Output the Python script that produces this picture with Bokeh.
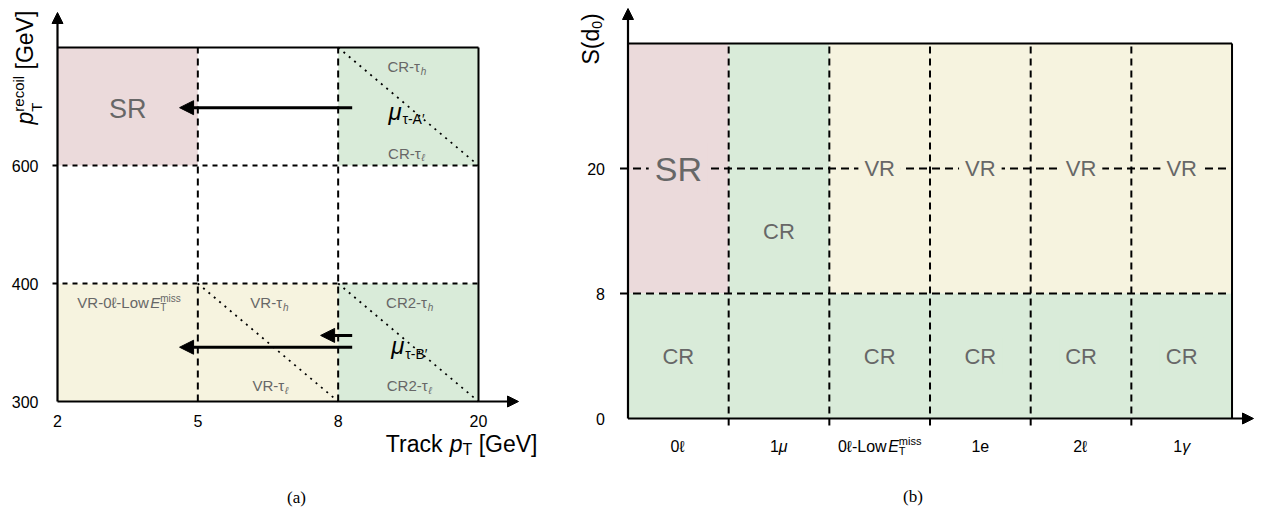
from bokeh.plotting import figure
from bokeh.models import Range1d, ColumnDataSource, Arrow, NormalHead
from bokeh.layouts import row
from bokeh.embed import file_html
from bokeh.resources import INLINE
from bokeh.core.properties import value, field

# ------------------------------------------------------------------ data (a)
track_pt_ticks = ["2", "5", "8", "20"]      # Track pT boundaries [GeV] (index 0..3)
recoil_ticks = ["300", "400", "600"]        # pT recoil boundaries [GeV] (index 0..2, top edge = 3)

a_kind = ["SR", "CR", "VR", "CR"]
a_x0 = [0, 2, 0, 2]
a_x1 = [1, 3, 2, 3]
a_y0 = [2, 2, 0, 0]
a_y1 = [3, 3, 1, 1]

a_cut_x = [1, 2]          # 5 GeV, 8 GeV
a_cut_y = [1, 2]          # 400 GeV, 600 GeV

a_diag_x0 = [2, 1, 2]
a_diag_y0 = [3, 1, 1]
a_diag_x1 = [3, 2, 3]
a_diag_y1 = [2, 0, 0]

arrow_from = [2.1, 2.1, 2.1]
arrow_to = [0.87, 1.875, 0.87]
arrow_at = [2.49, 0.56, 0.46]

# ------------------------------------------------------------------ data (b)
channels = ["0ℓ", "1μ", "0ℓ-LowE_T^miss", "1e", "2ℓ", "1γ"]
sd0_ticks = ["0", "8", "20"]
b_upper = ["SR", "CR", "VR", "VR", "VR", "VR"]     # S(d0) > 8
b_lower = ["CR", "CR", "CR", "CR", "CR", "CR"]     # S(d0) < 8
b_upper_text = ["SR", "CR", "VR", "VR", "VR", "VR"]
b_lower_text = ["CR", "", "CR", "CR", "CR", "CR"]

# ------------------------------------------------------------------ style / layout
FILL = {"SR": "#ebdadb", "CR": "#d9ebd9", "VR": "#f6f3df"}
GRAY = "#676767"
FONT = "Liberation Sans"
SERIF = "Liberation Serif"
NB = "\u00a0"
K = 0.32                      # baseline correction (em)
TICK = 16

OX, OY = 0, 0
WA, WB, H = 545, 716, 512
A_X0, A_SX, A_Y0, A_SY = 57, 140.33, 401, 118       # panel (a) grid: px of index 0, px/index
B_X0, B_SX, B_Y0, B_SY = 627.5, 100.67, 418, 125    # panel (b)


def ax_(px):
    return (px - A_X0) / A_SX


def ay_(py):
    return (A_Y0 - py) / A_SY


def bx_(px):
    return (px - B_X0) / B_SX


def by_(py):
    return (B_Y0 - py) / B_SY


CW = {" ": 0.278, NB: 0.278, "[": 0.278, "]": 0.278, "(": 0.333, ")": 0.333, "-": 0.333,
      "′": 0.19, "A": 0.667, "B": 0.667, "C": 0.722, "E": 0.667, "G": 0.778, "L": 0.556,
      "R": 0.722, "S": 0.667, "T": 0.611, "V": 0.667, "a": 0.556, "c": 0.5, "d": 0.556,
      "e": 0.556, "h": 0.556, "i": 0.222, "k": 0.5, "l": 0.222, "m": 0.833, "o": 0.556,
      "p": 0.556, "r": 0.333, "s": 0.5, "w": 0.722, "τ": 0.45, "μ": 0.58, "ℓ": 0.42,
      "γ": 0.5}


def tw(s, size):
    return sum(CW.get(c, 0.556) for c in s) * size


def layout(pieces):
    out, x, start = [], 0.0, 0.0
    for text, size, style, color, shift, stack in pieces:
        w = tw(text, size)
        if not stack:
            start = x
        x = max(x, start + w)
        out.append((text, size, style, color, shift, start))
    return out, x


def new_rows():
    return {k: [] for k in ["x", "y", "text", "dx", "dy", "size", "style", "color",
                            "font", "angle"]}


def rich(rows, pieces, x, y, align="center", angle=0, off=(0, 0), vcenter=True, font=FONT):
    items, total = layout(pieces)
    ref = total / 2 if align == "center" else (total if align == "right" else 0)
    base = 0.36 * pieces[0][1] if vcenter else 0
    for text, size, style, color, shift, start in items:
        a = start - ref
        s = shift + base - K * size
        if angle == 0:
            dx, dy = a, s
        else:
            dx, dy = s, -a
        rows["x"].append(x)
        rows["y"].append(y)
        rows["text"].append(text)
        rows["dx"].append(dx + off[0])
        rows["dy"].append(dy + off[1])
        rows["size"].append(f"{size}px")
        rows["style"].append(style)
        rows["color"].append(color)
        rows["font"].append(font)
        rows["angle"].append(angle)


def draw_rows(p, rows):
    p.text(x="x", y="y", text="text", x_offset="dx", y_offset="dy", angle="angle",
           angle_units="deg", text_font_size=field("size"), text_font_style=field("style"),
           text_color=field("color"), text_font=field("font"), text_align="left",
           text_baseline="alphabetic", source=ColumnDataSource(rows))


def base_fig(w, xr, yr):
    p = figure(width=w, height=H, x_range=Range1d(*xr), y_range=Range1d(*yr),
               x_axis_location=None, y_axis_location=None, output_backend="svg",
               toolbar_location=None, min_border_left=0, min_border_right=0,
               min_border_top=0, min_border_bottom=0)
    p.grid.visible = False
    p.outline_line_color = None
    p.background_fill_color = "white"
    p.border_fill_color = "white"
    return p


def axis_arrows(p, xtip, ytip):
    for xe, ye in [(xtip, 0), (0, ytip)]:
        p.add_layout(Arrow(end=NormalHead(size=11, fill_color="black", line_color="black",
                                          line_width=1),
                           x_start=0, y_start=0, x_end=xe, y_end=ye,
                           line_width=2.2, line_color="black"))


def tau(prefix, sub):
    return [(prefix + "τ", 15, "normal", GRAY, 0, False), (sub, 10, "italic", GRAY, 3, False)]


# ================================================================== panel (a)
pA = base_fig(WA, (ax_(OX), ax_(OX + WA)), (ay_(OY + H), ay_(OY)))
top_a = len(track_pt_ticks) - 1

pA.quad(left=a_x0, right=a_x1, bottom=a_y0, top=a_y1,
        fill_color=[FILL[k] for k in a_kind], line_color=None)
pA.segment(x0=a_cut_x, y0=[0] * len(a_cut_x), x1=a_cut_x, y1=[top_a] * len(a_cut_x),
           line_color="black", line_width=2, line_dash="7 5")
pA.segment(x0=[-5 / A_SX] * len(a_cut_y), y0=a_cut_y, x1=[top_a] * len(a_cut_y), y1=a_cut_y,
           line_color="black", line_width=2, line_dash="5 5")
pA.segment(x0=a_diag_x0, y0=a_diag_y0, x1=a_diag_x1, y1=a_diag_y1,
           line_color="black", line_width=1.8, line_dash="2 5")
pA.segment(x0=[0, top_a], y0=[top_a, 0], x1=[top_a, top_a], y1=[top_a, top_a],
           line_color="black", line_width=2)

rowsA = new_rows()
for i, t in enumerate(track_pt_ticks):
    rich(rowsA, [(t, TICK, "normal", "black", 0, False)], i, 0, off=(0, 19))
for i, t in enumerate(recoil_ticks):
    rich(rowsA, [(t, TICK, "normal", "black", 0, False)], 0, i, align="right", off=(-19, 0))

rich(rowsA, [("SR", 27, "normal", GRAY, 0, False)], 0.5, 2.49)
rich(rowsA, tau("CR-", "h"), 2.49, 2.84)
rich(rowsA, tau("CR-", "ℓ"), 2.49, 2.11)
rich(rowsA, tau("VR-", "h"), 1.51, 0.84)
rich(rowsA, tau("VR-", "ℓ"), 1.52, 0.14)
rich(rowsA, tau("CR2-", "h"), 2.51, 0.84)
rich(rowsA, tau("CR2-", "ℓ"), 2.51, 0.14)
rich(rowsA, [("VR-0ℓ-Low", 15, "normal", GRAY, 0, False),
             ("E", 15, "italic", GRAY, 0, False),
             ("miss", 10, "normal", GRAY, -6, False),
             ("T", 10, "normal", GRAY, 3, True)], 0.51, 0.84)
rich(rowsA, [("μ", 24, "italic", "black", 0, False),
             ("τ-A′", 14, "normal", "black", 5, False)], 2.49, 2.47)
rich(rowsA, [("μ", 24, "italic", "black", 0, False),
             ("τ-B′", 14, "normal", "black", 5, False)], 2.51, 0.48)

# axis titles and caption
rich(rowsA, [("Track" + NB, 23, "normal", "black", 0, False),
             ("p", 23, "italic", "black", 0, False),
             ("T", 16, "normal", "black", 3, False),
             (NB + "[GeV]", 23, "normal", "black", 0, False)], ax_(537), ay_(451),
     align="right", vcenter=False)
rich(rowsA, [("p", 23, "italic", "black", 0, False),
             ("T", 15, "normal", "black", 9, False),
             ("recoil", 15, "normal", "black", -9, True),
             (NB + "[GeV]", 23, "normal", "black", 0, False)], ax_(32), ay_(124),
     align="left", angle=90, vcenter=False)
rich(rowsA, [("(a)", 17, "normal", "black", 0, False)], ax_(297), ay_(496), font=SERIF)
draw_rows(pA, rowsA)

pA.add_layout(Arrow(end=NormalHead(size=14, fill_color="black", line_color="black"),
                    source=ColumnDataSource(dict(x0=arrow_from, x1=arrow_to, y=arrow_at)),
                    x_start="x0", y_start="y", x_end="x1", y_end="y",
                    line_width=3, line_color="black"))
axis_arrows(pA, ax_(518), ay_(12))

# ================================================================== panel (b)
ncol = len(channels)
pB = base_fig(WB, (bx_(OX + WA), bx_(OX + WA + WB)), (by_(OY + H), by_(OY)))

lefts = list(range(ncol))
rights = [i + 1 for i in range(ncol)]
pB.quad(left=lefts, right=rights, bottom=[1] * ncol, top=[3] * ncol,
        fill_color=[FILL[k] for k in b_upper], line_color=None)
pB.quad(left=lefts, right=rights, bottom=[0] * ncol, top=[1] * ncol,
        fill_color=[FILL[k] for k in b_lower], line_color=None)

cuts = list(range(1, ncol))
pB.segment(x0=cuts, y0=[-7 / B_SY] * len(cuts), x1=cuts, y1=[3] * len(cuts),
           line_color="black", line_width=2, line_dash="7 5")
pB.segment(x0=[-8 / B_SX] * 2, y0=[1, 2], x1=[ncol, ncol], y1=[1, 2],
           line_color="black", line_width=2, line_dash="8 5")
pB.segment(x0=[0, ncol], y0=[3, 0], x1=[ncol, ncol], y1=[3, 3],
           line_color="black", line_width=2)

ypos = {"SR": 2, "VR": 2, "CR": 1.5}
fsize = {"SR": "34px", "VR": "22px", "CR": "22px"}
centers = [i + 0.5 for i in range(ncol)]
tb = dict(x=centers + [c for c, t in zip(centers, b_lower_text) if t],
          y=[ypos[k] for k in b_upper] + [0.5 for t in b_lower_text if t],
          text=b_upper_text + [t for t in b_lower_text if t],
          size=[fsize[k] for k in b_upper] + ["22px" for t in b_lower_text if t],
          bg=[FILL[k] for k in b_upper] + [FILL[k] for k, t in zip(b_lower, b_lower_text) if t])
pB.text(x="x", y="y", text="text", text_font_size=field("size"), text_color=GRAY,
        text_font=value(FONT), text_align="center", text_baseline="middle",
        background_fill_color=field("bg"), padding=6, source=ColumnDataSource(tb))

rowsB = new_rows()
for c, t in zip(centers, channels):
    if "^" in t:
        head, rest = t.split("_")
        sub, sup = rest.split("^")
        pieces = [(head[:-1], 16, "normal", "black", 0, False),
                  (head[-1], 16, "italic", "black", 0, False),
                  (sup, 11, "normal", "black", -7, False),
                  (sub, 11, "normal", "black", 3, True)]
    elif t[-1] in "μγ":
        pieces = [(t[:-1], 16, "normal", "black", 0, False),
                  (t[-1], 16, "italic", "black", 0, False)]
    else:
        pieces = [(t, 16, "normal", "black", 0, False)]
    rich(rowsB, pieces, c, 0, off=(0, 27))
for i, t in enumerate(sd0_ticks):
    rich(rowsB, [(t, TICK, "normal", "black", 0, False)], 0, i, align="right", off=(-23, 0))
rich(rowsB, [("S(d", 23, "normal", "black", 0, False),
             ("0", 14, "normal", "black", 3, False),
             (")", 23, "normal", "black", 0, False)], bx_(598), by_(64),
     align="left", angle=90, vcenter=False)
rich(rowsB, [("(b)", 17, "normal", "black", 0, False)], bx_(913), by_(495), font=SERIF)
draw_rows(pB, rowsB)

axis_arrows(pB, bx_(1253), by_(8))

open("out.html", "w").write(file_html(row(pA, pB), INLINE))
